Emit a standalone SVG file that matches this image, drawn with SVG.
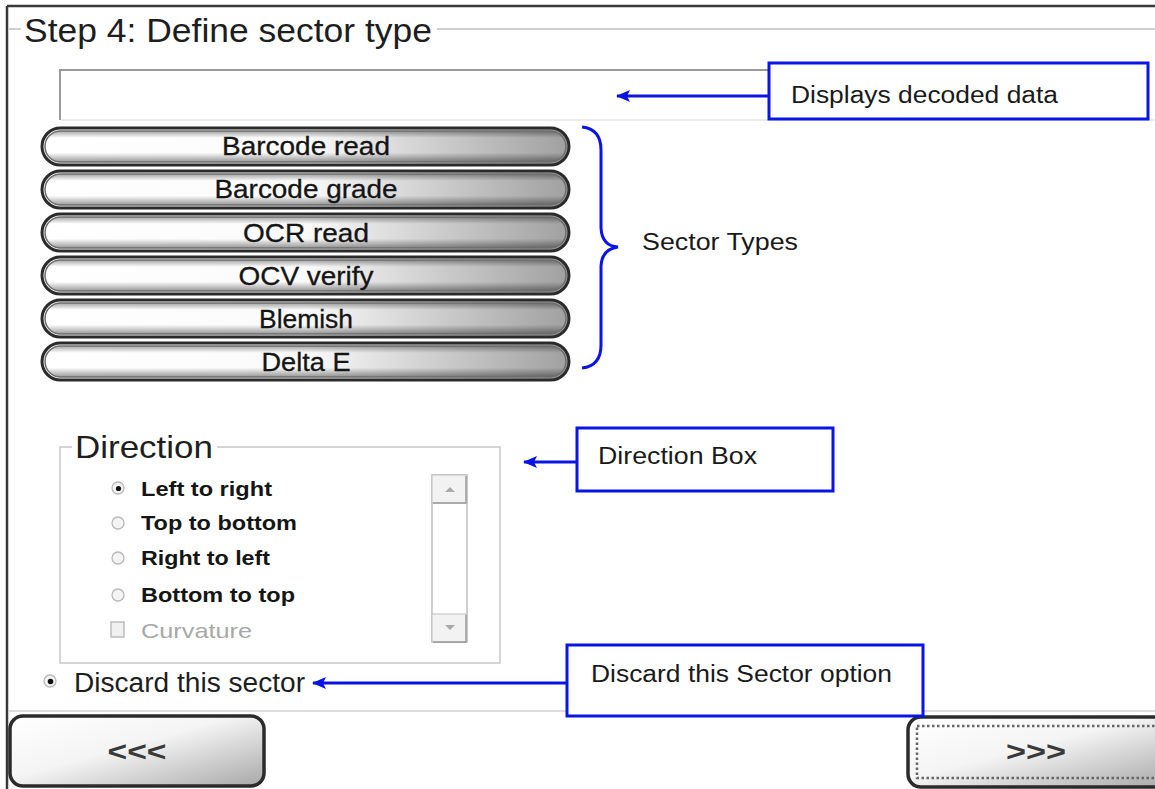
<svg xmlns="http://www.w3.org/2000/svg" width="1155" height="789" viewBox="0 0 1155 789">
<defs>
  <linearGradient id="pillH" x1="0" y1="0" x2="1" y2="0">
    <stop offset="0" stop-color="#ffffff"/>
    <stop offset="0.5" stop-color="#fafafa"/>
    <stop offset="1" stop-color="#a0a0a0"/>
  </linearGradient>
  <linearGradient id="pillV" x1="0" y1="0" x2="0" y2="1">
    <stop offset="0" stop-color="#000" stop-opacity="0.35"/>
    <stop offset="0.22" stop-color="#000" stop-opacity="0"/>
    <stop offset="0.7" stop-color="#000" stop-opacity="0"/>
    <stop offset="1" stop-color="#000" stop-opacity="0.4"/>
  </linearGradient>
  <linearGradient id="btnGrad" x1="0" y1="0" x2="1" y2="1">
    <stop offset="0" stop-color="#ffffff"/>
    <stop offset="0.45" stop-color="#f4f4f4"/>
    <stop offset="1" stop-color="#a8a8a8"/>
  </linearGradient>
  <marker id="arrow" viewBox="0 0 14 12" refX="13" refY="6" markerWidth="14" markerHeight="12" markerUnits="userSpaceOnUse" orient="auto">
    <path d="M0,0 L14,6 L0,12 L3,6 Z" fill="#0a14e6"/>
  </marker>
</defs>
<style>
  text { font-family: "Liberation Sans", Arial, sans-serif; fill: #1e1e1e; }
  .pill { fill: url(#pillH); stroke: #2b2b2b; stroke-width: 3; }
  .pillShade { fill: url(#pillV); stroke: #6e6e6e; stroke-width: 1.5; }
  .pillText { font-size: 25px; text-anchor: middle; fill: #151515; stroke: #151515; stroke-width: 0.3; }
  .callout { fill: #ffffff; stroke: #0a14e6; stroke-width: 3; }
  .callText { font-size: 23px; fill: #1a1a1a; }
  .conn { stroke: #0a14e6; stroke-width: 3; fill: none; }
  .opt { font-size: 21px; font-weight: bold; fill: #151515; }
  .radio { fill: #f4f4f4; stroke: #b8b8b8; stroke-width: 1.3; }
  .bigBtn { fill: url(#btnGrad); stroke: #2b2b2b; stroke-width: 3.5; }
  .btnText { font-size: 27px; font-weight: bold; text-anchor: middle; fill: #3a3a3a; }
</style>
<rect x="0" y="0" width="1155" height="789" fill="#ffffff"/>

<!-- frame -->
<g id="frame">
  <line x1="7" y1="6" x2="1155" y2="6" stroke="#3a3a3a" stroke-width="2.5"/>
  <line x1="7" y1="6" x2="7" y2="789" stroke="#3a3a3a" stroke-width="2.5"/>
  <line x1="9" y1="29" x2="21" y2="29" stroke="#cfcfcf" stroke-width="2"/>
  <line x1="437" y1="29" x2="1155" y2="29" stroke="#cfcfcf" stroke-width="2"/>
  <text x="24" y="42" font-size="33" textLength="408" lengthAdjust="spacingAndGlyphs">Step 4: Define sector type</text>
  <line x1="9" y1="711" x2="1155" y2="711" stroke="#dcdcdc" stroke-width="2"/>
</g>

<!-- decoded data field -->
<g id="decoded-field">
  <line x1="60" y1="70" x2="769" y2="70" stroke="#9a9a9a" stroke-width="2"/>
  <line x1="60" y1="69" x2="60" y2="120" stroke="#9a9a9a" stroke-width="2"/>
  <line x1="61" y1="120" x2="1155" y2="120" stroke="#ececec" stroke-width="2"/>
</g>

<!-- sector type buttons -->
<g id="btn-barcode-read">
  <rect class="pill" x="42" y="128" width="527" height="37" rx="18.5"/>
  <rect class="pillShade" x="45" y="131" width="521" height="31" rx="15.5"/>
  <text class="pillText" x="306" y="155" textLength="168" lengthAdjust="spacingAndGlyphs">Barcode read</text>
</g>
<g id="btn-barcode-grade">
  <rect class="pill" x="42" y="171" width="527" height="37" rx="18.5"/>
  <rect class="pillShade" x="45" y="174" width="521" height="31" rx="15.5"/>
  <text class="pillText" x="306" y="198" textLength="183" lengthAdjust="spacingAndGlyphs">Barcode grade</text>
</g>
<g id="btn-ocr-read">
  <rect class="pill" x="42" y="214" width="527" height="37" rx="18.5"/>
  <rect class="pillShade" x="45" y="217" width="521" height="31" rx="15.5"/>
  <text class="pillText" x="306" y="242" textLength="126" lengthAdjust="spacingAndGlyphs">OCR read</text>
</g>
<g id="btn-ocv-verify">
  <rect class="pill" x="42" y="257" width="527" height="37" rx="18.5"/>
  <rect class="pillShade" x="45" y="260" width="521" height="31" rx="15.5"/>
  <text class="pillText" x="306" y="285" textLength="135" lengthAdjust="spacingAndGlyphs">OCV verify</text>
</g>
<g id="btn-blemish">
  <rect class="pill" x="42" y="300" width="527" height="37" rx="18.5"/>
  <rect class="pillShade" x="45" y="303" width="521" height="31" rx="15.5"/>
  <text class="pillText" x="306" y="328" textLength="94" lengthAdjust="spacingAndGlyphs">Blemish</text>
</g>
<g id="btn-delta-e">
  <rect class="pill" x="42" y="343" width="527" height="37" rx="18.5"/>
  <rect class="pillShade" x="45" y="346" width="521" height="31" rx="15.5"/>
  <text class="pillText" x="306" y="371" textLength="89" lengthAdjust="spacingAndGlyphs">Delta E</text>
</g>

<!-- direction group -->
<g id="direction-box">
  <path d="M72,447 L60,447 L60,663 L500,663 L500,447 L217,447" fill="none" stroke="#c8c8c8" stroke-width="1.5"/>
  <text x="75" y="458" font-size="32" textLength="138" lengthAdjust="spacingAndGlyphs">Direction</text>
  <circle class="radio" cx="118" cy="488" r="6"/>
  <circle cx="118.5" cy="488.5" r="2.6" fill="#111"/>
  <text class="opt" x="141" y="496" textLength="131" lengthAdjust="spacingAndGlyphs">Left to right</text>
  <circle class="radio" cx="118" cy="523" r="6"/>
  <text class="opt" x="141" y="530" textLength="156" lengthAdjust="spacingAndGlyphs">Top to bottom</text>
  <circle class="radio" cx="118" cy="558" r="6"/>
  <text class="opt" x="141" y="565" textLength="129" lengthAdjust="spacingAndGlyphs">Right to left</text>
  <circle class="radio" cx="118" cy="595" r="6"/>
  <text class="opt" x="141" y="602" textLength="154" lengthAdjust="spacingAndGlyphs">Bottom to top</text>
  <rect x="111" y="622" width="13" height="15" fill="#f0f0f0" stroke="#bdbdbd" stroke-width="1.5"/>
  <text x="141" y="638" font-size="21" style="fill:#a8a8a8" textLength="111" lengthAdjust="spacingAndGlyphs">Curvature</text>
  <!-- scrollbar -->
  <rect x="432" y="475" width="35" height="167" fill="#ffffff" stroke="#c0c0c0" stroke-width="1.5"/>
  <rect x="432" y="475" width="35" height="28" fill="#f2f2f2" stroke="#c0c0c0" stroke-width="1"/>
  <path d="M466,476 L466,503 L433,503" fill="none" stroke="#9a9a9a" stroke-width="1.5"/>
  <path d="M445,492 L450,487 L455,492 Z" fill="#aaaaaa"/>
  <rect x="432" y="614" width="35" height="28" fill="#f2f2f2" stroke="#c0c0c0" stroke-width="1"/>
  <path d="M466,615 L466,642 L433,642" fill="none" stroke="#9a9a9a" stroke-width="1.5"/>
  <path d="M445,625 L450,630 L455,625 Z" fill="#aaaaaa"/>
</g>

<!-- discard option -->
<g id="discard-sector">
  <circle class="radio" cx="50" cy="681" r="6"/>
  <circle cx="50.5" cy="681.5" r="2.8" fill="#111"/>
  <text x="74" y="692" font-size="27" textLength="231" lengthAdjust="spacingAndGlyphs">Discard this sector</text>
</g>

<!-- navigation buttons -->
<g id="btn-back">
  <rect class="bigBtn" x="10" y="716" width="254" height="70" rx="13"/>
  <text class="btnText" x="137" y="761" textLength="59" lengthAdjust="spacingAndGlyphs">&lt;&lt;&lt;</text>
</g>
<g id="btn-next">
  <rect class="bigBtn" x="908" y="717" width="262" height="70" rx="13"/>
  <rect x="917" y="726" width="240" height="52" fill="none" stroke="#666" stroke-width="2.5" stroke-dasharray="2.5 2.5"/>
  <text class="btnText" x="1036" y="761" textLength="60" lengthAdjust="spacingAndGlyphs">&gt;&gt;&gt;</text>
</g>

<!-- callouts -->
<g id="callout-decoded">
  <rect class="callout" x="769" y="63" width="379" height="56"/>
  <text class="callText" x="791" y="103" textLength="267" lengthAdjust="spacingAndGlyphs">Displays decoded data</text>
</g>
<g id="callout-sector-types">
  <text class="callText" x="642" y="250" textLength="156" lengthAdjust="spacingAndGlyphs">Sector Types</text>
</g>
<g id="callout-direction">
  <rect class="callout" x="577" y="428" width="256" height="63"/>
  <text class="callText" x="598" y="464" textLength="159" lengthAdjust="spacingAndGlyphs">Direction Box</text>
</g>
<g id="callout-discard">
  <rect class="callout" x="567" y="645" width="356" height="71"/>
  <text class="callText" x="591" y="682" textLength="301" lengthAdjust="spacingAndGlyphs">Discard this Sector option</text>
</g>

<!-- connectors -->
<g id="connectors">
  <line class="conn" x1="768" y1="96" x2="617" y2="96" marker-end="url(#arrow)"/>
  <line class="conn" x1="576" y1="462" x2="524" y2="462" marker-end="url(#arrow)"/>
  <line class="conn" x1="566" y1="683" x2="313" y2="683" marker-end="url(#arrow)"/>
  <path class="conn" d="M582,127 Q601,129 601,150 L601,228 Q602,246 618,247 Q602,249 601,266 L601,345 Q601,366 582,368"/>
</g>
</svg>
